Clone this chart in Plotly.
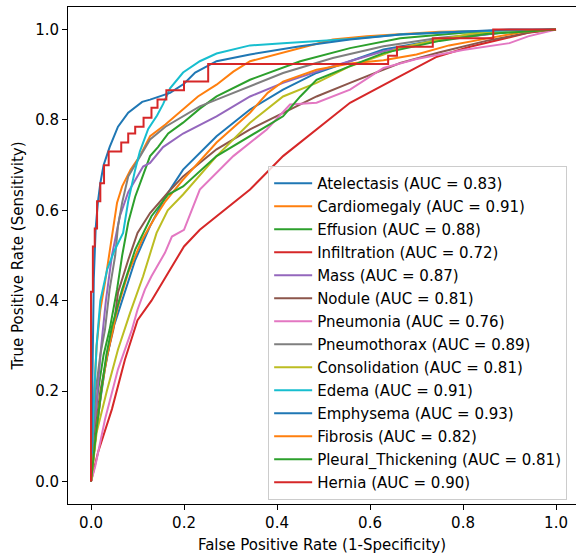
import plotly.graph_objects as go

# ---- data ----
names = ["Atelectasis", "Cardiomegaly", "Effusion", "Infiltration", "Mass", "Nodule",
         "Pneumonia", "Pneumothorax", "Consolidation", "Edema", "Emphysema", "Fibrosis",
         "Pleural_Thickening", "Hernia"]
aucs = [0.83, 0.91, 0.88, 0.72, 0.87, 0.81, 0.76, 0.89, 0.81, 0.91, 0.93, 0.82, 0.81, 0.90]
colors = ["#1f77b4", "#ff7f0e", "#2ca02c", "#d62728", "#9467bd", "#8c564b", "#e377c2",
          "#7f7f7f", "#bcbd22", "#17becf", "#1f77b4", "#ff7f0e", "#2ca02c", "#d62728"]

atelectasis_fpr = [0, 0.01, 0.02, 0.03, 0.045, 0.067, 0.095, 0.127, 0.16, 0.198, 0.27, 0.342, 0.413, 0.485, 0.557, 0.629, 0.75, 0.9, 1]
atelectasis_tpr = [0, 0.1, 0.18, 0.25, 0.33, 0.4, 0.49, 0.565, 0.63, 0.69, 0.764, 0.823, 0.867, 0.904, 0.93, 0.956, 0.978, 0.995, 1]

cardiomegaly_fpr = [0, 0.003, 0.007, 0.012, 0.02, 0.03, 0.045, 0.056, 0.067, 0.085, 0.105, 0.127, 0.16, 0.198, 0.23, 0.27, 0.306, 0.342, 0.45, 0.52, 0.593, 0.75, 1]
cardiomegaly_tpr = [0, 0.1, 0.2, 0.3, 0.38, 0.44, 0.54, 0.617, 0.653, 0.69, 0.72, 0.764, 0.79, 0.823, 0.852, 0.878, 0.907, 0.93, 0.959, 0.978, 0.985, 0.995, 1]

effusion_fpr = [0, 0.005, 0.015, 0.027, 0.04, 0.056, 0.067, 0.08, 0.095, 0.116, 0.127, 0.144, 0.166, 0.198, 0.234, 0.27, 0.342, 0.45, 0.557, 0.665, 0.8, 1]
effusion_tpr = [0, 0.1, 0.2, 0.28, 0.336, 0.425, 0.5, 0.573, 0.63, 0.69, 0.72, 0.74, 0.77, 0.794, 0.825, 0.852, 0.889, 0.93, 0.959, 0.981, 0.993, 1]

infiltration_fpr = [0, 0.015, 0.045, 0.073, 0.1, 0.13, 0.166, 0.2, 0.234, 0.342, 0.413, 0.485, 0.557, 0.665, 0.744, 0.815, 0.858, 0.94, 1]
infiltration_tpr = [0, 0.064, 0.16, 0.27, 0.357, 0.4, 0.462, 0.52, 0.557, 0.646, 0.72, 0.779, 0.838, 0.897, 0.94, 0.962, 0.973, 0.993, 1]

mass_fpr = [0, 0.006, 0.014, 0.022, 0.032, 0.045, 0.062, 0.08, 0.112, 0.127, 0.155, 0.198, 0.27, 0.342, 0.413, 0.52, 0.629, 0.75, 0.9, 1]
mass_tpr = [0, 0.1, 0.2, 0.3, 0.4, 0.5, 0.587, 0.64, 0.697, 0.705, 0.74, 0.77, 0.808, 0.852, 0.882, 0.919, 0.952, 0.977, 0.995, 1]

nodule_fpr = [0, 0.008, 0.02, 0.035, 0.048, 0.058, 0.08, 0.1, 0.127, 0.166, 0.198, 0.27, 0.342, 0.413, 0.485, 0.557, 0.629, 0.665, 0.75, 0.85, 0.95, 1]
nodule_tpr = [0, 0.1, 0.2, 0.28, 0.336, 0.418, 0.49, 0.55, 0.594, 0.64, 0.675, 0.735, 0.779, 0.816, 0.852, 0.882, 0.911, 0.926, 0.95, 0.975, 0.995, 1]

pneumonia_fpr = [0, 0.009, 0.03, 0.058, 0.088, 0.1, 0.116, 0.13, 0.159, 0.174, 0.2, 0.224, 0.234, 0.306, 0.378, 0.428, 0.485, 0.557, 0.629, 0.7, 0.8, 0.9, 0.94, 1]
pneumonia_tpr = [0, 0.033, 0.137, 0.248, 0.336, 0.38, 0.425, 0.454, 0.506, 0.542, 0.557, 0.62, 0.646, 0.72, 0.779, 0.834, 0.838, 0.867, 0.915, 0.935, 0.955, 0.97, 0.985, 1]

pneumothorax_fpr = [0, 0.004, 0.01, 0.02, 0.03, 0.04, 0.052, 0.058, 0.067, 0.08, 0.1, 0.127, 0.16, 0.198, 0.234, 0.27, 0.342, 0.413, 0.52, 0.629, 0.75, 0.9, 1]
pneumothorax_tpr = [0, 0.1, 0.2, 0.28, 0.336, 0.425, 0.5, 0.565, 0.617, 0.675, 0.71, 0.757, 0.785, 0.808, 0.83, 0.845, 0.875, 0.904, 0.937, 0.963, 0.982, 0.996, 1]

consolidation_fpr = [0, 0.012, 0.034, 0.058, 0.084, 0.112, 0.141, 0.165, 0.198, 0.27, 0.342, 0.413, 0.485, 0.557, 0.629, 0.665, 0.75, 0.815, 0.9, 1]
consolidation_tpr = [0, 0.108, 0.2, 0.292, 0.373, 0.454, 0.55, 0.6, 0.635, 0.72, 0.794, 0.852, 0.882, 0.919, 0.945, 0.96, 0.978, 0.99, 0.997, 1]

edema_fpr = [0, 0.005, 0.012, 0.02, 0.035, 0.05, 0.069, 0.08, 0.095, 0.105, 0.123, 0.142, 0.155, 0.17, 0.198, 0.234, 0.27, 0.342, 0.413, 0.557, 0.665, 0.8, 1]
edema_tpr = [0, 0.15, 0.3, 0.4, 0.47, 0.51, 0.55, 0.62, 0.69, 0.73, 0.78, 0.81, 0.835, 0.87, 0.905, 0.93, 0.947, 0.965, 0.97, 0.979, 0.989, 0.996, 1]

emphysema_fpr = [0, 0.002, 0.004, 0.006, 0.01, 0.015, 0.02, 0.027, 0.04, 0.058, 0.08, 0.11, 0.127, 0.17, 0.2, 0.224, 0.27, 0.342, 0.45, 0.557, 0.665, 0.8, 0.9, 1]
emphysema_tpr = [0, 0.15, 0.3, 0.45, 0.56, 0.62, 0.66, 0.7, 0.74, 0.785, 0.816, 0.84, 0.845, 0.86, 0.88, 0.905, 0.93, 0.945, 0.963, 0.978, 0.989, 0.996, 1.0, 1]

fibrosis_fpr = [0, 0.01, 0.022, 0.035, 0.047, 0.058, 0.08, 0.11, 0.138, 0.16, 0.198, 0.27, 0.342, 0.38, 0.413, 0.485, 0.557, 0.629, 0.7, 0.77, 0.85, 0.93, 1]
fibrosis_tpr = [0, 0.1, 0.2, 0.28, 0.336, 0.387, 0.462, 0.535, 0.585, 0.62, 0.668, 0.75, 0.816, 0.86, 0.885, 0.911, 0.925, 0.932, 0.945, 0.965, 0.98, 0.995, 1]

pleural_fpr = [0, 0.01, 0.022, 0.033, 0.045, 0.067, 0.095, 0.13, 0.166, 0.198, 0.27, 0.342, 0.413, 0.45, 0.485, 0.557, 0.629, 0.75, 0.85, 1]
pleural_tpr = [0, 0.1, 0.2, 0.28, 0.343, 0.425, 0.513, 0.587, 0.635, 0.653, 0.72, 0.764, 0.808, 0.852, 0.889, 0.919, 0.948, 0.975, 0.99, 1]

hernia_fpr = [0, 0, 0.004, 0.004, 0.008, 0.008, 0.013, 0.013, 0.02, 0.02, 0.028, 0.028, 0.038, 0.038,
              0.065, 0.065, 0.08, 0.08, 0.095, 0.095, 0.113, 0.113, 0.13, 0.13, 0.143, 0.143, 0.162, 0.162,
              0.18, 0.18, 0.2, 0.2, 0.252, 0.252, 0.639, 0.639, 0.658, 0.658, 0.735, 0.735, 0.865, 0.865, 1]
hernia_tpr = [0, 0.42, 0.42, 0.52, 0.52, 0.56, 0.56, 0.62, 0.62, 0.66, 0.66, 0.7, 0.7, 0.73,
              0.73, 0.75, 0.75, 0.77, 0.77, 0.785, 0.785, 0.805, 0.805, 0.827, 0.827, 0.845, 0.845, 0.866,
              0.866, 0.866, 0.866, 0.885, 0.885, 0.924, 0.924, 0.942, 0.942, 0.962, 0.962, 0.981, 0.981, 1.0, 1.0]

fprs = [atelectasis_fpr, cardiomegaly_fpr, effusion_fpr, infiltration_fpr, mass_fpr, nodule_fpr,
        pneumonia_fpr, pneumothorax_fpr, consolidation_fpr, edema_fpr, emphysema_fpr, fibrosis_fpr,
        pleural_fpr, hernia_fpr]
tprs = [atelectasis_tpr, cardiomegaly_tpr, effusion_tpr, infiltration_tpr, mass_tpr, nodule_tpr,
        pneumonia_tpr, pneumothorax_tpr, consolidation_tpr, edema_tpr, emphysema_tpr, fibrosis_tpr,
        pleural_tpr, hernia_tpr]

xticks = [0.0, 0.2, 0.4, 0.6, 0.8, 1.0]
yticks = [0.0, 0.2, 0.4, 0.6, 0.8, 1.0]

FONT = "DejaVu Sans"
FS = 15

fig = go.Figure()
for i, name in enumerate(names):
    fig.add_trace(go.Scatter(
        x=fprs[i], y=tprs[i], mode="lines",
        name=f"{name} (AUC = {aucs[i]:.2f})",
        legendgroup=f"g{i}",
        line=dict(color=colors[i], width=2),
    ))

fig.update_layout(
    width=576, height=554,
    margin=dict(l=68, r=0, t=7, b=50, autoexpand=False),
    paper_bgcolor="white", plot_bgcolor="white",
    font=dict(family=FONT, size=FS, color="black"),
    showlegend=True,
    legend=dict(
        x=0.394, y=0.008, xanchor="left", yanchor="bottom",
        bgcolor="rgba(255,255,255,0.8)", bordercolor="#cccccc", borderwidth=1,
        font=dict(family=FONT, size=FS, color="black"),
        itemwidth=38, tracegroupgap=0.5,
    ),
    xaxis=dict(
        range=[-0.0495, 1.043], tickvals=xticks, ticktext=[f"{v:.1f}" for v in xticks],
        showgrid=False, zeroline=False, showline=True, linecolor="black", linewidth=1,
        mirror=True, ticks="outside", ticklen=5, tickcolor="black",
        title=dict(text="False Positive Rate (1-Specificity)", standoff=10,
                   font=dict(family=FONT, size=FS)),
    ),
    yaxis=dict(
        range=[-0.05, 1.05], tickvals=yticks, ticktext=[f"{v:.1f}" for v in yticks],
        showgrid=False, zeroline=False, showline=True, linecolor="black", linewidth=1,
        ticks="outside", ticklen=5, tickcolor="black",
        title=dict(text="True Positive Rate (Sensitivity)", standoff=7,
                   font=dict(family=FONT, size=FS)),
    ),
)

fig.write_html("out.html", config={"displayModeBar": False},
               post_script="document.body.style.margin='0';document.body.style.overflow='hidden';")
